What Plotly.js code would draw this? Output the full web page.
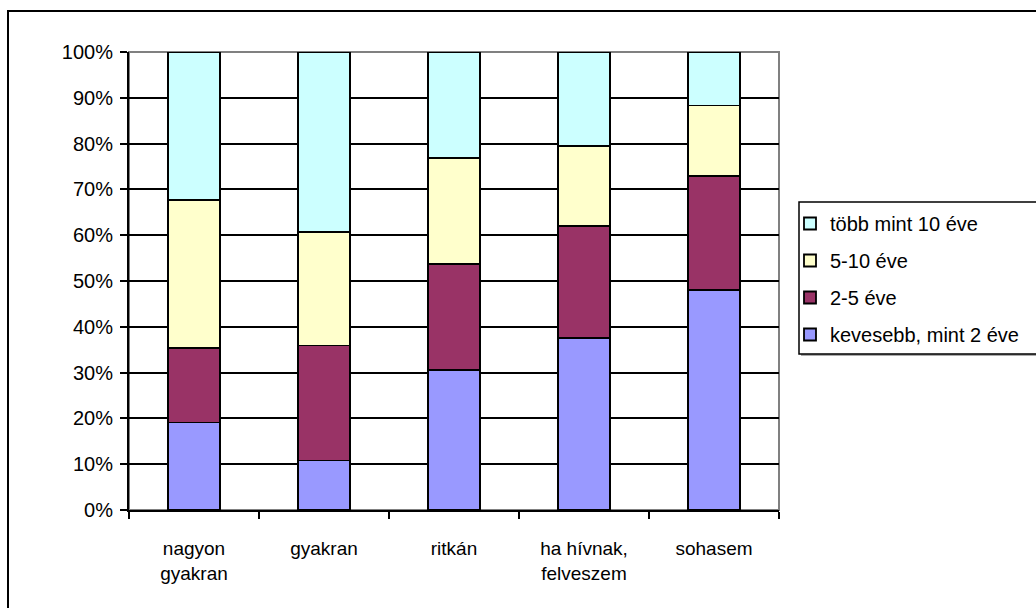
<!DOCTYPE html>
<html>
<head>
<meta charset="utf-8">
<script src="https://cdn.plot.ly/plotly-3.0.1.min.js"></script>
<style>
html,body{margin:0;padding:0;background:#fff;}
#chart{width:1036px;height:608px;}
</style>
</head>
<body>
<div id="chart"></div>
<script>
const categories = ["nagyon<br>gyakran", "gyakran", "ritkán", "ha hívnak,<br>felveszem", "sohasem"];
const seriesNames = ["kevesebb, mint 2 éve", "2-5 éve", "5-10 éve", "több mint 10 éve"];
const kevesebb2 = [19.1, 10.8, 30.5, 37.5, 48.0];
const ev2_5 = [16.3, 25.1, 23.2, 24.5, 24.9];
const ev5_10 = [32.3, 24.8, 23.2, 17.5, 15.4];
const tobb10 = [32.3, 39.3, 23.1, 20.5, 11.7];
const colors = ["#9999FF", "#993366", "#FFFFCC", "#CCFFFF"];

const seriesValues = [kevesebb2, ev2_5, ev5_10, tobb10];
const FONT = "Liberation Sans, Arial, sans-serif";

const traces = seriesValues.map((vals, i) => ({
  type: "bar",
  name: seriesNames[i],
  x: categories,
  y: vals,
  legendgroup: "g" + i,
  legendrank: 100 - i,
  marker: {color: colors[i], line: {color: "#000", width: 1.8}},
  hoverinfo: "skip"
}));

// pixel helpers for decorative frames (paper coords)
const px = v => (v - 129) / 650;
const py = v => (510 - v) / 458;

const layout = {
  width: 1036, height: 608,
  margin: {l: 129, r: 257, t: 52, b: 98, autoexpand: false},
  paper_bgcolor: "#fff", plot_bgcolor: "#fff",
  barmode: "stack",
  bargap: 0.6,
  font: {family: FONT, size: 20, color: "#000"},
  showlegend: true,
  legend: {
    xref: "container", yref: "container",
    x: 790 / 1036, xanchor: "left", y: 1 - 204 / 608, yanchor: "top",
    traceorder: "grouped", tracegroupgap: 8,
    bgcolor: "rgba(0,0,0,0)", borderwidth: 0,
    font: {family: FONT, size: 20, color: "#000"}
  },
  xaxis: {
    type: "category",
    showline: true, linecolor: "#000", linewidth: 2,
    ticks: "outside", tickson: "boundaries", ticklen: 7, tickwidth: 2, tickcolor: "#000",
    showgrid: false, zeroline: false, ticklabelstandoff: 20,
    tickfont: {family: FONT, size: 19, color: "#000"}
  },
  yaxis: {
    range: [0, 100], dtick: 10, ticksuffix: "%",
    showline: true, linecolor: "#000", linewidth: 2,
    ticks: "outside", ticklen: 7, tickwidth: 2, tickcolor: "#000",
    showgrid: true, gridcolor: "#000", gridwidth: 2,
    zeroline: false, ticklabelstandoff: 3,
    tickfont: {family: FONT, size: 20, color: "#000"}
  },
  shapes: [
    {type: "rect", xref: "paper", yref: "paper", x0: 0, x1: 1, y0: 0, y1: 1,
     line: {color: "#808080", width: 2}, layer: "between"},
    {type: "rect", xref: "paper", yref: "paper",
     x0: px(8), x1: px(1100), y0: py(700), y1: py(11),
     line: {color: "#000", width: 2}, layer: "below"},
    {type: "rect", xref: "paper", yref: "paper",
     x0: px(801), x1: px(1100), y0: py(356), y1: py(354),
     fillcolor: "#aaaaaa", line: {width: 0}, layer: "below"},
    {type: "rect", xref: "paper", yref: "paper",
     x0: px(799), x1: px(1100), y0: py(354), y1: py(202),
     fillcolor: "#fff", line: {color: "#000", width: 1.5}, layer: "below"}
  ]
};

Plotly.newPlot("chart", traces, layout, {displayModeBar: false, staticPlot: true});
</script>
</body>
</html>
